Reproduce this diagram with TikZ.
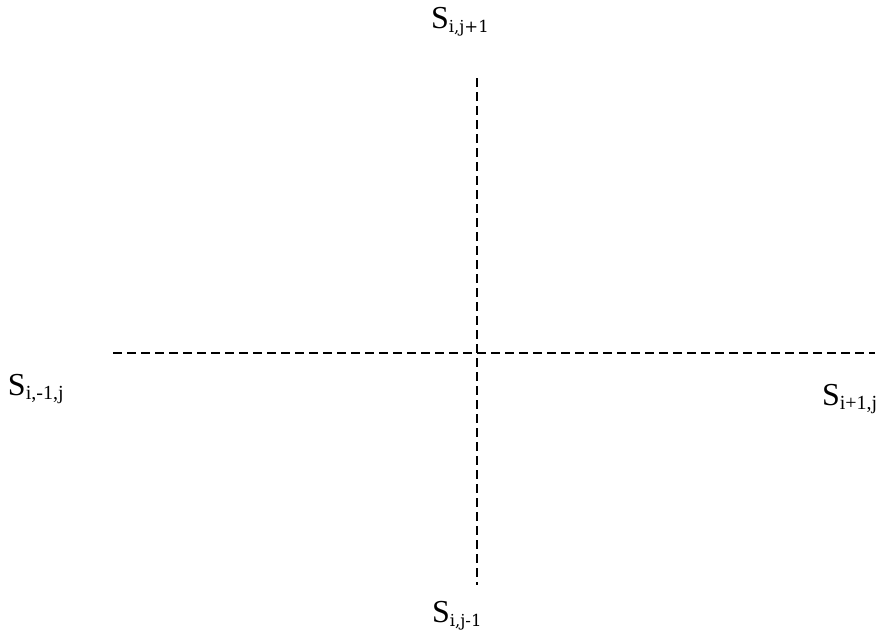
\documentclass[tikz,border=0pt]{standalone}
\usepackage{fontspec}
\setmainfont{Liberation Serif}
\newfontfamily\subfont{DejaVu Serif}
\newcommand{\lbl}[2]{\fontsize{32}{38}\selectfont #1\raisebox{-4pt}{\fontsize{20}{24}\selectfont #2}}
\newcommand{\lblb}[2]{\fontsize{32}{38}\selectfont #1\raisebox{-4pt}{\subfont\fontsize{16.5}{20}\selectfont #2}}
\tikzset{
  grid line/.style={line width=1.4pt, dash pattern=on 9pt off 5pt},
  lab/.style={anchor=base west, inner sep=0pt, outer sep=0pt}
}
\begin{document}
\begin{tikzpicture}[x=1pt,y=-1pt]
\useasboundingbox (0,0) rectangle (882,632);
\coordinate (vt) at (477,78);
\coordinate (vb) at (477,585);
\coordinate (hl) at (113,353);
\coordinate (hr) at (875,353);
\draw[grid line] (vt) -- (vb);
\draw[grid line] (hl) -- (hr);
\node[lab] (top) at (431,28) {\lblb{S}{i,j+1}};
\node[lab] (left) at (8,395) {\lbl{S}{i,-1,j}};
\node[lab] (right) at (822,405) {\lbl{S}{i+1,j}};
\node[lab] (bottom) at (432,622) {\lblb{S}{i,j-1}};
\end{tikzpicture}
\end{document}
